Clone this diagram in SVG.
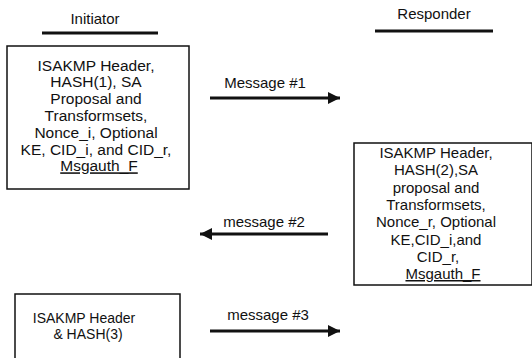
<svg xmlns="http://www.w3.org/2000/svg" width="532" height="358" viewBox="0 0 532 358">
<defs>
<style>
text{font-family:"Liberation Sans",Arial,sans-serif;fill:#111;text-anchor:middle}
.box{fill:#fff;stroke:#111;stroke-width:1.5}
.arrow{stroke:#111;stroke-width:3;fill:none;marker-end:url(#ah)}
.under{stroke:#111;stroke-width:3}
.u{text-decoration:underline}
</style>
<marker id="ah" viewBox="0 0 10 10" refX="10" refY="5" markerWidth="6" markerHeight="4" markerUnits="strokeWidth" orient="auto">
<path d="M0,0L10,5L0,10z" fill="#111"/>
</marker>
</defs>
<rect width="532" height="358" fill="#fff"/>
<g id="initiator-label">
<text x="95" y="24" font-size="15">Initiator</text>
<line class="under" x1="42" y1="33" x2="158" y2="33"/>
</g>
<g id="responder-label">
<text x="434" y="19" font-size="15">Responder</text>
<line class="under" x1="375" y1="31" x2="493" y2="31"/>
</g>
<g id="msg1-box">
<rect class="box" x="7" y="46" width="182" height="143"/>
<g font-size="15.5">
<text x="96" y="70.5">ISAKMP Header,</text>
<text x="96" y="87.3">HASH(1), SA</text>
<text x="96" y="104.1">Proposal and</text>
<text x="96" y="120.9">Transformsets,</text>
<text x="96" y="137.7">Nonce_i, Optional</text>
<text x="96" y="154.5">KE, CID_i, and CID_r,</text>
<text x="99" y="171.3" class="u">Msgauth_F</text>
</g>
</g>
<g id="msg2-box">
<rect class="box" x="354" y="143" width="178" height="142"/>
<g font-size="15">
<text x="436" y="158">ISAKMP Header,</text>
<text x="436" y="175.3">HASH(2),SA</text>
<text x="436" y="192.6">proposal and</text>
<text x="436" y="209.9">Transformsets,</text>
<text x="436" y="227.2">Nonce_r, Optional</text>
<text x="436" y="244.5">KE,CID_i,and</text>
<text x="438" y="261.8">CID_r,</text>
<text x="443" y="279" class="u">Msgauth_F</text>
</g>
</g>
<g id="msg3-box">
<rect class="box" x="15" y="294" width="165" height="70"/>
<g font-size="14">
<text x="84" y="323">ISAKMP Header</text>
<text x="88" y="339">&amp; HASH(3)</text>
</g>
</g>
<g id="connectors">
<line class="arrow" x1="210" y1="98" x2="340" y2="98"/>
<line class="arrow" x1="328" y1="234" x2="200" y2="234"/>
<line class="arrow" x1="210" y1="331" x2="340" y2="331"/>
<text x="265" y="88" font-size="15">Message #1</text>
<text x="264" y="227" font-size="15">message #2</text>
<text x="268" y="320" font-size="15">message #3</text>
</g>
</svg>
